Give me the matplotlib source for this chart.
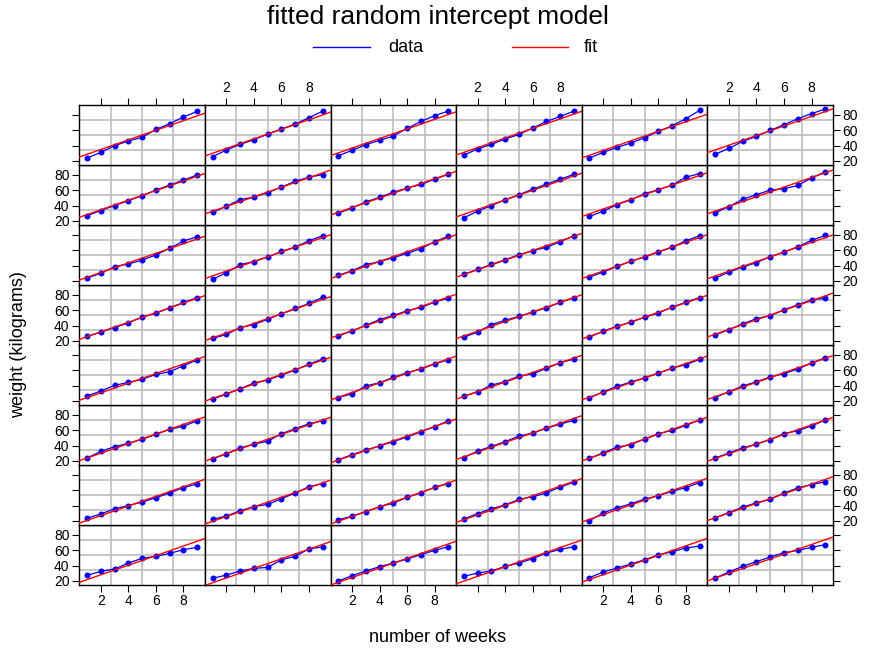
import matplotlib
matplotlib.use("Agg")
import matplotlib.pyplot as plt
from matplotlib.lines import Line2D
import numpy as np

plt.rcParams['font.family'] = ['Liberation Sans', 'DejaVu Sans']

# weeks 1..9, one row per pig (pig 1 is the bottom-left panel)
weeks = np.arange(1, 10)
weights = [
    [27.3, 32.4, 35.5, 43.2, 49.3, 51.8, 55.7, 60.5, 63.5],
    [23.4, 27.7, 32.9, 36.3, 37.6, 47.5, 51.8, 61.7, 63.9],
    [20.0, 26.8, 32.9, 38.5, 43.2, 48.4, 54.0, 59.6, 64.3],
    [26.0, 30.3, 32.9, 38.9, 43.2, 48.8, 56.2, 60.9, 64.3],
    [24.3, 31.6, 36.8, 41.9, 47.5, 53.6, 57.9, 62.6, 65.2],
    [23.8, 31.6, 38.9, 45.0, 51.0, 56.6, 59.6, 63.5, 66.9],
    [23.5, 29.1, 35.7, 40.0, 44.4, 50.1, 56.2, 63.2, 67.9],
    [22.2, 26.5, 33.1, 38.7, 41.4, 48.8, 56.2, 64.5, 68.4],
    [21.7, 26.1, 32.2, 38.3, 43.1, 50.5, 56.6, 63.6, 68.4],
    [22.6, 29.6, 35.7, 40.9, 47.9, 51.4, 56.2, 64.0, 70.1],
    [20.4, 30.5, 37.0, 42.2, 48.3, 52.7, 58.4, 63.2, 69.7],
    [23.9, 30.9, 37.9, 43.5, 47.9, 56.2, 62.7, 67.1, 70.6],
    [23.8, 32.4, 38.5, 42.8, 48.0, 54.4, 60.9, 64.8, 72.1],
    [22.5, 29.4, 36.8, 41.9, 45.4, 55.3, 61.8, 68.2, 72.1],
    [21.7, 28.1, 34.2, 39.3, 45.0, 51.0, 57.9, 64.3, 72.1],
    [24.3, 32.9, 38.9, 45.0, 52.3, 56.1, 62.2, 67.8, 72.5],
    [23.4, 30.7, 38.0, 41.1, 48.4, 55.3, 59.6, 66.0, 73.0],
    [23.8, 30.3, 36.8, 41.9, 47.5, 55.3, 59.2, 65.2, 73.0],
    [26.4, 32.9, 40.2, 44.1, 48.0, 54.4, 57.9, 65.6, 73.0],
    [22.5, 28.6, 35.9, 43.2, 47.1, 53.6, 60.0, 67.8, 74.3],
    [24.3, 29.4, 39.3, 43.7, 50.6, 56.6, 61.3, 67.8, 73.4],
    [26.0, 32.0, 40.6, 45.0, 52.3, 54.9, 62.2, 69.5, 74.3],
    [23.8, 32.0, 38.9, 44.5, 50.1, 55.7, 62.6, 66.9, 73.8],
    [24.3, 32.0, 39.3, 44.9, 51.0, 55.3, 61.3, 69.1, 76.0],
    [25.9, 31.4, 37.4, 43.3, 51.0, 55.7, 63.0, 69.8, 76.2],
    [23.3, 28.4, 37.4, 41.2, 48.0, 55.3, 62.1, 68.5, 76.6],
    [26.3, 33.1, 40.3, 47.6, 53.1, 59.1, 63.4, 70.2, 75.7],
    [25.0, 31.4, 41.2, 46.7, 51.9, 57.4, 62.9, 69.8, 76.2],
    [25.0, 32.7, 39.1, 44.2, 50.6, 56.1, 63.8, 70.2, 76.2],
    [27.6, 34.8, 42.1, 48.9, 52.7, 60.4, 66.8, 73.2, 75.3],
    [23.8, 29.9, 38.5, 41.9, 47.1, 53.6, 62.2, 71.7, 77.3],
    [22.1, 30.7, 41.1, 45.1, 51.0, 58.3, 63.9, 72.1, 78.6],
    [27.3, 33.3, 41.1, 45.1, 50.1, 55.7, 61.7, 70.8, 78.1],
    [28.6, 35.0, 41.5, 47.6, 54.0, 59.2, 63.5, 70.8, 78.6],
    [25.1, 31.6, 38.9, 45.4, 51.0, 57.4, 63.5, 72.1, 78.6],
    [23.4, 31.6, 38.0, 43.7, 51.4, 57.4, 64.3, 72.5, 79.0],
    [26.7, 33.5, 39.9, 46.3, 52.7, 60.0, 66.4, 72.8, 79.6],
    [31.0, 39.1, 47.6, 51.0, 56.6, 63.8, 71.5, 76.6, 80.0],
    [30.1, 36.9, 44.6, 50.6, 57.4, 62.5, 67.2, 74.0, 80.4],
    [24.1, 32.7, 39.9, 47.6, 54.0, 61.2, 67.6, 74.0, 80.4],
    [25.9, 32.7, 41.2, 47.2, 55.3, 60.4, 66.4, 76.6, 81.3],
    [30.5, 38.6, 48.0, 54.0, 60.0, 61.7, 65.9, 75.7, 83.8],
    [23.8, 31.2, 39.8, 45.8, 50.6, 60.9, 68.2, 76.8, 84.2],
    [25.5, 34.2, 41.5, 47.5, 54.9, 61.3, 67.8, 76.0, 84.6],
    [26.8, 33.7, 41.1, 46.7, 52.3, 62.2, 71.2, 78.6, 84.6],
    [27.7, 35.5, 41.5, 48.4, 54.4, 62.6, 71.2, 77.7, 84.6],
    [23.8, 31.2, 37.6, 43.2, 50.1, 58.3, 65.6, 74.7, 85.5],
    [28.6, 36.3, 45.4, 51.8, 59.6, 66.9, 74.7, 81.2, 87.2],
]
weights = np.array(weights)

# random intercept fit: common slope, one intercept per pig
xc = weeks - weeks.mean()
yc = weights - weights.mean(axis=1, keepdims=True)
slope = (yc * xc).sum() / (len(weights) * (xc ** 2).sum())
intercepts = weights.mean(axis=1) - slope * weeks.mean()

nrow, ncol = 8, 6
xlim = (0.44, 9.56)
ylim = (15.2, 92.8)

fig = plt.figure(figsize=(8.75, 6.56), dpi=100)
gs = fig.add_gridspec(nrow, ncol, left=0.0906, right=0.952, top=0.8404,
                      bottom=0.1087, hspace=0, wspace=0)

for k in range(len(weights)):
    r = k // ncol          # row counted from the bottom
    c = k % ncol
    ax = fig.add_subplot(gs[nrow - 1 - r, c])
    ax.set_xlim(xlim)
    ax.set_ylim(ylim)
    for f in (0.25, 0.5, 0.75):
        ax.axvline(xlim[0] + f * (xlim[1] - xlim[0]), color='#bebebe', lw=1.2, zorder=0)
        ax.axhline(ylim[0] + f * (ylim[1] - ylim[0]), color='#bebebe', lw=1.2, zorder=0)
    ax.plot(weeks, weights[k], color='blue', lw=0.9, marker='o', ms=3.3, zorder=2)
    ax.axline((0, intercepts[k]), slope=slope, color='red', lw=1.0, zorder=3)
    for s in ax.spines.values():
        s.set_linewidth(1.0)

    ax.set_xticks([2, 4, 6, 8])
    ax.set_yticks([20, 40, 60, 80])
    ax.tick_params(direction='out', length=5, width=0.8, labelsize=10,
                   colors='black', pad=2,
                   bottom=(r == 0), top=(r == nrow - 1),
                   left=(c == 0), right=(c == ncol - 1),
                   labelbottom=(r == 0 and c % 2 == 0),
                   labeltop=(r == nrow - 1 and c % 2 == 1),
                   labelleft=(c == 0 and r % 2 == 0),
                   labelright=(c == ncol - 1 and r % 2 == 1))

fig.text(0.5, 1 - 17 / 656, 'fitted random intercept model', ha='center', va='center', fontsize=19)
fig.text(0.5, 1 - 638 / 656, 'number of weeks', ha='center', va='center', fontsize=13)
fig.text(0.021, 0.475, 'weight (kilograms)', ha='center', va='center',
         rotation=90, fontsize=13)

# legend keys
ly = 1 - 47 / 656
fig.add_artist(Line2D([313 / 875, 370 / 875], [ly, ly], color='blue', lw=1.0))
fig.text(388 / 875, ly, 'data', ha='left', va='center', fontsize=13)
fig.add_artist(Line2D([512 / 875, 568 / 875], [ly, ly], color='red', lw=1.0))
fig.text(584 / 875, ly, 'fit', ha='left', va='center', fontsize=13)

fig.savefig('out.png', dpi=100)
